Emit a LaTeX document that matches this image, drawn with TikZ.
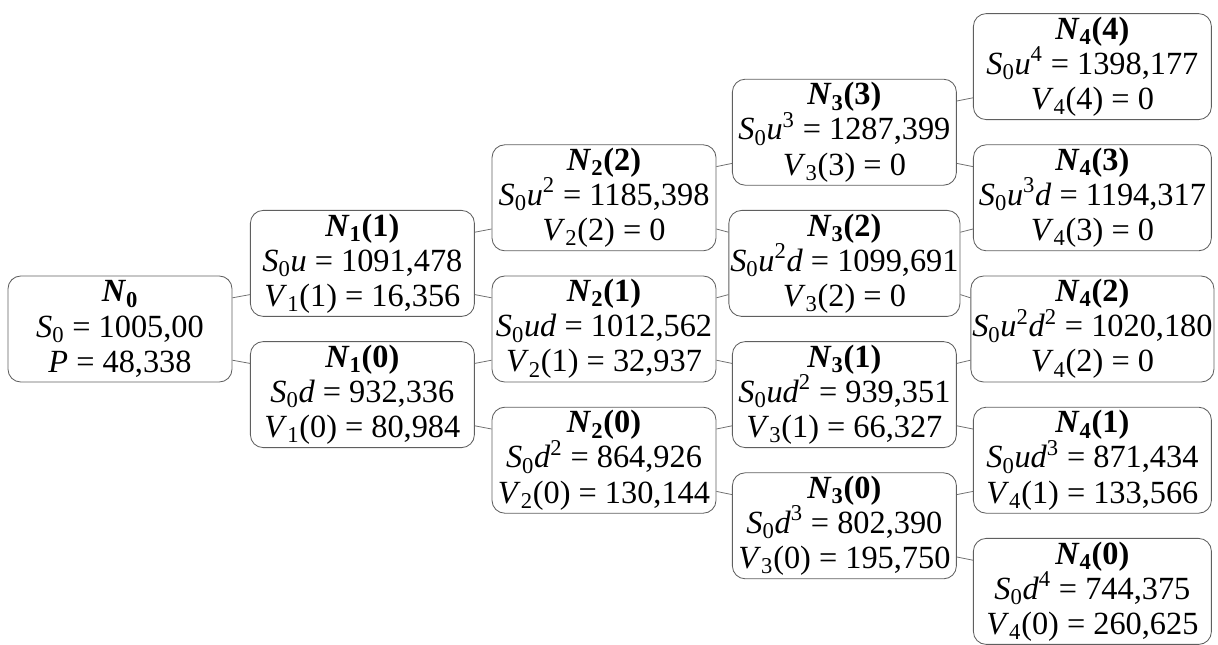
\documentclass[tikz,border=0pt]{standalone}
\usepackage{fontspec}
\setmainfont{Liberation Serif}
\newfontfamily\treefont{Liberation Serif}
\usepackage{xcolor}
\usepackage{tikz}
\usetikzlibrary{positioning,calc}
\definecolor{boxgray}{RGB}{95, 95, 95}
\definecolor{linkgray}{RGB}{110, 110, 110}
\newcommand{\Nhead}[2]{\textbf{\textit{N}\textsubscript{#1}(#2)}}
\newcommand{\Szero}{\textit{S}\textsubscript{0}}
\newcommand{\Vval}[2]{\textit{V}\textsubscript{#1}(#2)}

\begin{document}
\begin{tikzpicture}[
    treenode/.style={draw=boxgray, line width=0.6pt, rounded corners=0.32cm,
      minimum width=5.6cm, minimum height=2.65cm, inner sep=1pt, align=center,
      font=\treefont\fontsize{23}{25}\selectfont},
    widenode/.style={treenode, minimum width=5.95cm},
    link/.style={draw=linkgray, line width=0.55pt}]
  \useasboundingbox (0,0) rectangle (30.45,-16.1);
  % step 0
  \node[treenode] (n0) at (3.0,-8.225) {\textbf{\textit{N}\textsubscript{0}}\\ \Szero{} = 1005,00\\ \textit{P} = 48,338};
  % step 1
  \node[treenode] (n11) at (9.06,-6.585) {\Nhead{1}{1}\\ \Szero\textit{u} = 1091,478\\ \Vval{1}{1} = 16,356};
  \node[treenode] (n10) at (9.06,-9.865) {\Nhead{1}{0}\\ \Szero\textit{d} = 932,336\\ \Vval{1}{0} = 80,984};
  % step 2
  \node[treenode] (n22) at (15.1,-4.945) {\Nhead{2}{2}\\ \Szero\textit{u}\textsuperscript{2} = 1185,398\\ \Vval{2}{2} = 0};
  \node[treenode] (n21) at (15.1,-8.225) {\Nhead{2}{1}\\ \Szero\textit{ud} = 1012,562\\ \Vval{2}{1} = 32,937};
  \node[treenode] (n20) at (15.1,-11.505) {\Nhead{2}{0}\\ \Szero\textit{d}\textsuperscript{2} = 864,926\\ \Vval{2}{0} = 130,144};
  % step 3
  \node[treenode] (n33) at (21.11,-3.305) {\Nhead{3}{3}\\ \Szero\textit{u}\textsuperscript{3} = 1287,399\\ \Vval{3}{3} = 0};
  \node[treenode] (n32) at (21.11,-6.585) {\Nhead{3}{2}\\ \Szero\textit{u}\textsuperscript{2}\textit{d} = 1099,691\\ \Vval{3}{2} = 0};
  \node[treenode] (n31) at (21.11,-9.865) {\Nhead{3}{1}\\ \Szero\textit{ud}\textsuperscript{2} = 939,351\\ \Vval{3}{1} = 66,327};
  \node[treenode] (n30) at (21.11,-13.145) {\Nhead{3}{0}\\ \Szero\textit{d}\textsuperscript{3} = 802,390\\ \Vval{3}{0} = 195,750};
  % step 4
  \node[widenode] (n44) at (27.31,-1.665) {\Nhead{4}{4}\\ \Szero\textit{u}\textsuperscript{4} = 1398,177\\ \Vval{4}{4} = 0};
  \node[widenode] (n43) at (27.31,-4.945) {\Nhead{4}{3}\\ \Szero\textit{u}\textsuperscript{3}\textit{d} = 1194,317\\ \Vval{4}{3} = 0};
  \node[widenode] (n42) at (27.31,-8.225) {\Nhead{4}{2}\\ \Szero\textit{u}\textsuperscript{2}\textit{d}\textsuperscript{2} = 1020,180\\ \Vval{4}{2} = 0};
  \node[widenode] (n41) at (27.31,-11.505) {\Nhead{4}{1}\\ \Szero\textit{ud}\textsuperscript{3} = 871,434\\ \Vval{4}{1} = 133,566};
  \node[widenode] (n40) at (27.31,-14.785) {\Nhead{4}{0}\\ \Szero\textit{d}\textsuperscript{4} = 744,375\\ \Vval{4}{0} = 260,625};
  % up and down moves
  \foreach \a/\b in {n0/n11, n11/n22, n10/n21, n22/n33, n21/n32, n20/n31, n33/n44, n32/n43, n31/n42, n30/n41}
    \draw[link] ($(\a.east)+(0,0.78)$) -- ($(\b.west)+(0,-0.78)$);
  \foreach \a/\b in {n0/n10, n11/n21, n10/n20, n22/n32, n21/n31, n20/n30, n33/n43, n32/n42, n31/n41, n30/n40}
    \draw[link] ($(\a.east)+(0,-0.78)$) -- ($(\b.west)+(0,0.78)$);
\end{tikzpicture}
\end{document}
